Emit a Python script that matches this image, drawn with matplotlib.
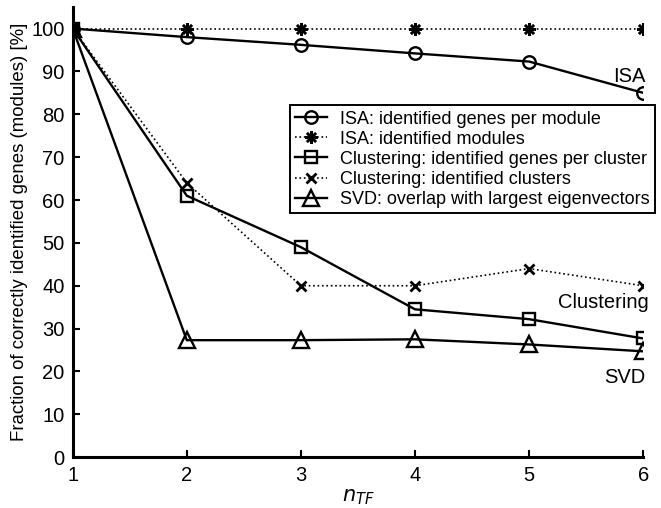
import numpy as np
from matplotlib import pyplot as plt

plt.rcParams['font.family'] = ['Liberation Sans', 'DejaVu Sans']

n_tf = [1, 2, 3, 4, 5, 6]
isa_genes = [100, 98, 96.2, 94.2, 92.3, 85]
isa_modules = [100, 100, 100, 100, 100, 100]
clust_genes = [100, 61, 49, 34.5, 32.2, 27.7]
clust_clusters = [100, 64, 40, 40, 44, 40]
svd_overlap = [100, 27.3, 27.3, 27.5, 26.3, 24.7]

labels = ["ISA: identified genes per module",
          "ISA: identified modules",
          "Clustering: identified genes per cluster",
          "Clustering: identified clusters",
          "SVD: overlap with largest eigenvectors"]

fig = plt.figure(figsize=(6.61, 5.08), dpi=100)
ax = fig.add_axes([0.110, 0.100, 0.863, 0.886])

lw = 1.7
ax.plot(n_tf, isa_genes, color='black', lw=lw, marker='o', ms=9, mfc='none', mew=1.7, label=labels[0])
ax.plot(n_tf, isa_modules, color='black', lw=1.2, ls=':', marker=(8, 2, 0), ms=9, mew=1.8, label=labels[1])
ax.plot(n_tf, clust_genes, color='black', lw=lw, marker='s', ms=8, mfc='none', mew=1.7, label=labels[2])
ax.plot(n_tf, clust_clusters, color='black', lw=1.2, ls=':', marker='x', ms=7, mew=2, label=labels[3])
ax.plot(n_tf, svd_overlap, color='black', lw=lw, marker='^', ms=11, mfc='none', mew=1.7, label=labels[4])

ax.text(6.02, 88.8, "ISA", ha='right', va='center', fontsize=14.5)
ax.text(6.05, 36, "Clustering", ha='right', va='center', fontsize=14.5)
ax.text(6.02, 18.7, "SVD", ha='right', va='center', fontsize=14.5)

ax.set_xlim(1, 6)
ax.set_ylim(0, 105)
ax.set_xticks(n_tf)
ax.set_yticks(np.arange(0, 101, 10))
ax.tick_params(direction='in', length=5, width=1.5, labelsize=14.5, pad=6)
for side in ['top', 'right']:
    ax.spines[side].set_visible(False)
for side in ['left', 'bottom']:
    ax.spines[side].set_linewidth(2.2)

ax.set_xlabel(r'$n_{TF}$', fontsize=15, labelpad=2)
ax.set_ylabel('Fraction of correctly identified genes (modules) [%]', fontsize=13.4, labelpad=2)

leg = ax.legend(loc='upper right', bbox_to_anchor=(1.021, 0.782), borderaxespad=0,
                fontsize=13, fancybox=False, edgecolor='black', framealpha=1,
                labelspacing=0.17, handlelength=1.8, handletextpad=0.7, borderpad=0.3)
leg.get_frame().set_linewidth(1.4)

plt.savefig("out.png", dpi=100)
